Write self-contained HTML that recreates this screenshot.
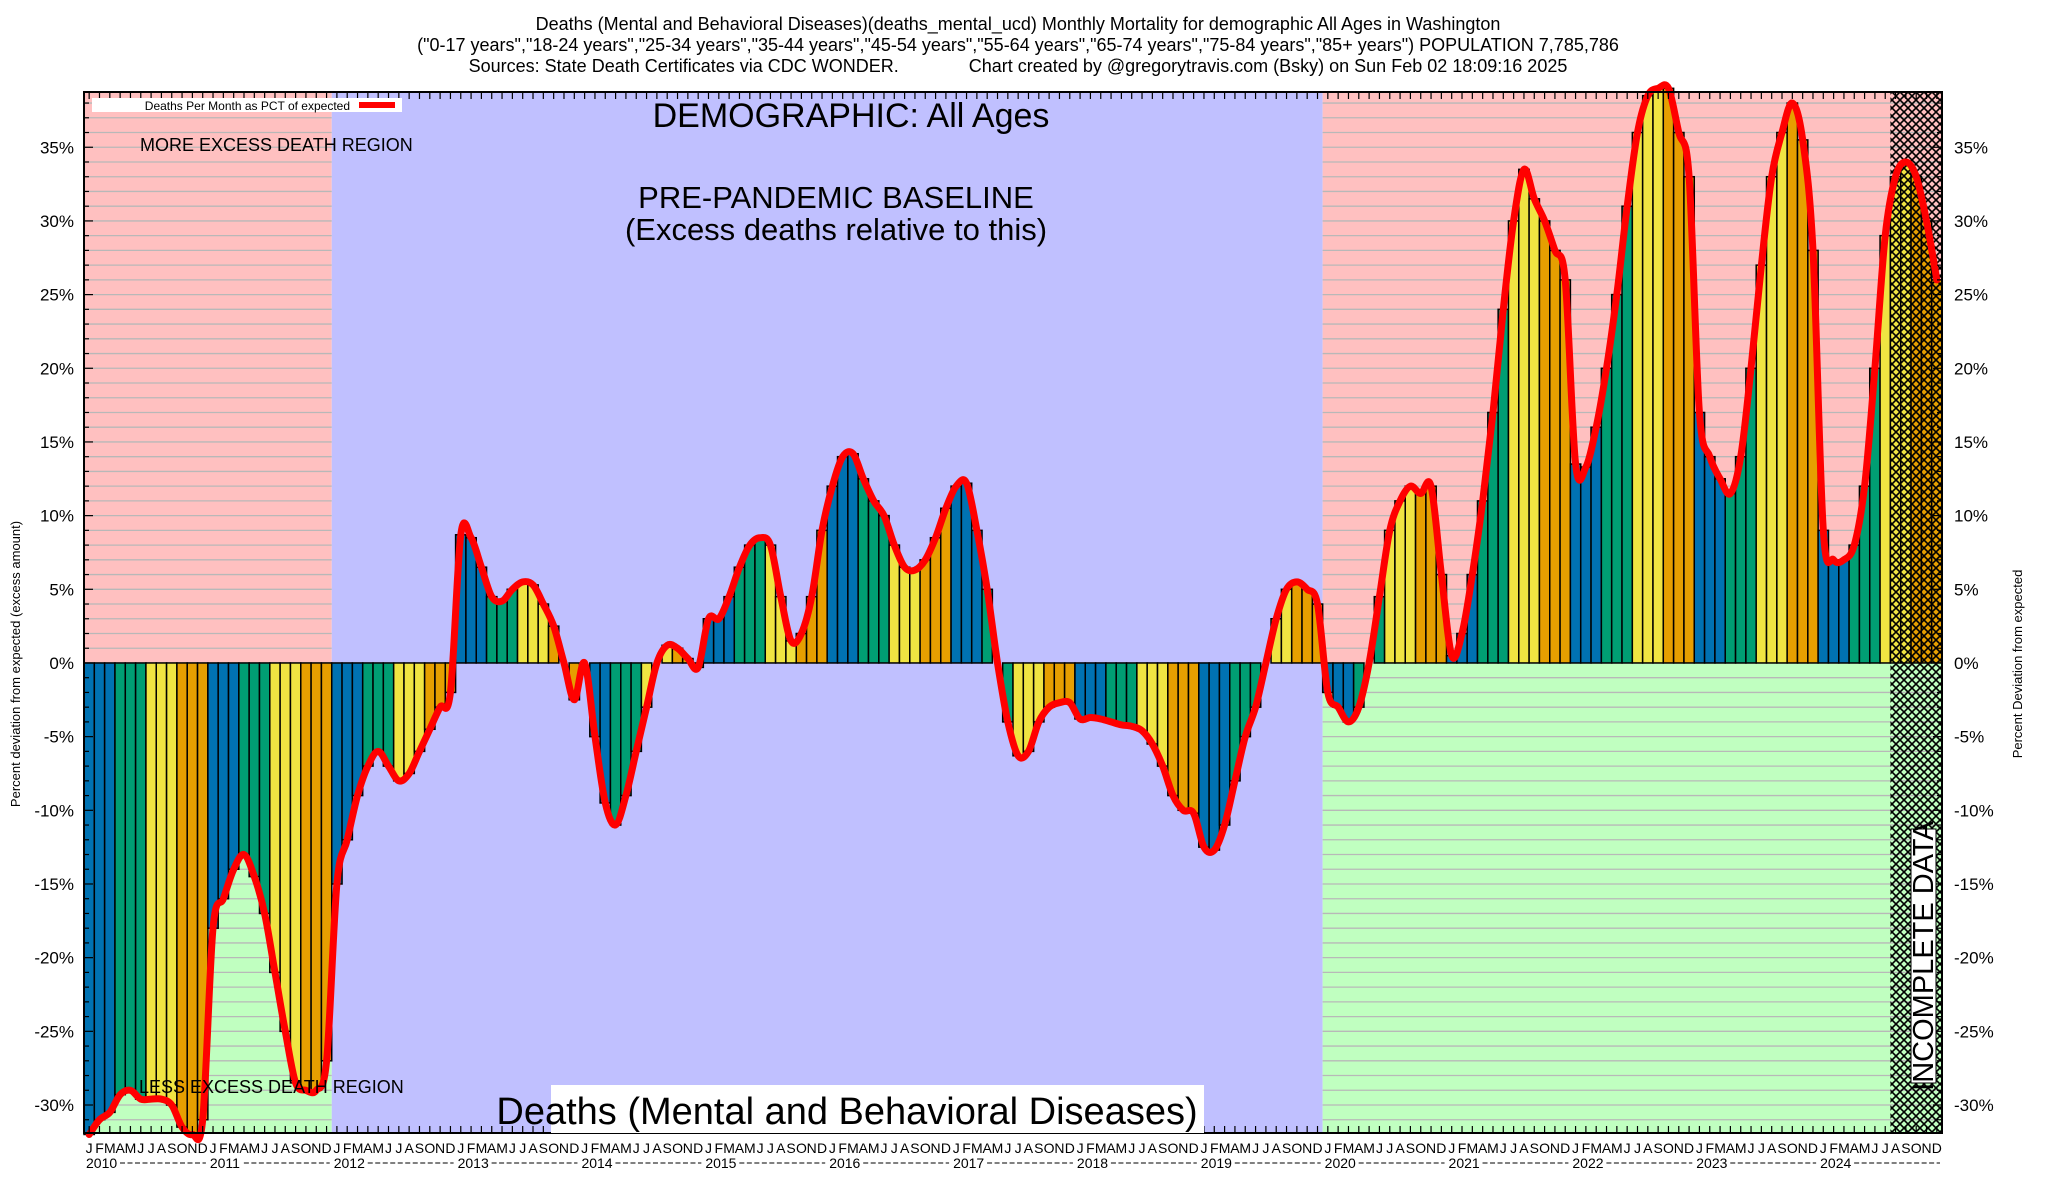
<!DOCTYPE html>
<html><head><meta charset="utf-8"><style>
html,body{margin:0;padding:0;background:#fff}
svg{display:block;font-family:"Liberation Sans",sans-serif}
</style></head><body>
<svg id="chart" width="2048" height="1200" viewBox="0 0 2048 1200" xmlns="http://www.w3.org/2000/svg">
<defs>
<pattern id="hatch" width="8" height="8" patternUnits="userSpaceOnUse">
<path d="M0,0 L8,8 M8,0 L0,8" stroke="#000" stroke-width="1.6"/>
</pattern>
</defs>
<g id="bg"></g>
<g id="grid"></g>
<g id="bars"></g>
<g id="hatchg"></g>
<path id="line" fill="none" stroke="#ff0000" stroke-width="7" stroke-linejoin="round" stroke-linecap="round"/>
<g id="axes"></g>
<g id="texts">
<text x="1018" y="30" font-size="18" text-anchor="middle">Deaths (Mental and Behavioral Diseases)(deaths_mental_ucd) Monthly Mortality for demographic All Ages in Washington</text>
<text x="1018" y="51" font-size="18" text-anchor="middle">("0-17 years","18-24 years","25-34 years","35-44 years","45-54 years","55-64 years","65-74 years","75-84 years","85+ years") POPULATION 7,785,786</text>
<text x="1018" y="72" font-size="18" text-anchor="middle" xml:space="preserve">Sources: State Death Certificates via CDC WONDER.              Chart created by @gregorytravis.com (Bsky) on Sun Feb 02 18:09:16 2025</text>
<rect x="92" y="98" width="310" height="14" fill="#fff"/>
<text x="350" y="110" font-size="12" text-anchor="end">Deaths Per Month as PCT of expected</text>
<line x1="359" y1="105" x2="395" y2="105" stroke="#f00" stroke-width="6"/>
<text x="851" y="127" font-size="34" text-anchor="middle">DEMOGRAPHIC: All Ages</text>
<text x="836" y="208" font-size="31" text-anchor="middle">PRE-PANDEMIC BASELINE</text>
<text x="836" y="240" font-size="31" text-anchor="middle">(Excess deaths relative to this)</text>
<text x="140" y="151" font-size="18">MORE EXCESS DEATH REGION</text>
<text x="139" y="1093" font-size="18">LESS EXCESS DEATH REGION</text>
<rect x="551" y="1085" width="653" height="48" fill="#fff"/>
<text x="847" y="1124" font-size="38" text-anchor="middle">Deaths (Mental and Behavioral Diseases)</text>
<rect x="1911" y="829" width="25" height="254" fill="#fff" stroke="#000" stroke-width="1"/>
<text transform="translate(1933,956) rotate(-90)" font-size="29" text-anchor="middle">INCOMPLETE DATA</text>
<text transform="translate(20,664) rotate(-90)" font-size="13" text-anchor="middle">Percent deviation from expected (excess amount)</text>
<text transform="translate(2022,664) rotate(-90)" font-size="13" text-anchor="middle">Percent Deviation from expected</text>
</g>
</svg>
<script>
const years = [2010,2011,2012,2013,2014,2015,2016,2017,2018,2019,2020,2021,2022,2023,2024];
const monthLetters = ["J","F","M","A","M","J","J","A","S","O","N","D"];
const yTicks = [-30,-25,-20,-15,-10,-5,0,5,10,15,20,25,30,35];
const v2010 = [-32,-31,-30.5,-29.3,-29,-29.6,-29.6,-29.6,-30,-31.5,-32,-31];
const v2011 = [-18,-16,-14,-13,-14.5,-17,-21,-25,-28.5,-29,-29,-27];
const v2012 = [-15,-12,-9,-7,-6,-7,-8,-7.5,-6,-4.5,-3,-2];
const v2013 = [8.7,8.5,6.5,4.5,4.2,5,5.5,5.3,4,2.5,0,-2.5];
const v2014 = [0,-5,-9.5,-11,-9,-6,-3,0,1.2,1,0.3,-0.3];
const v2015 = [3,3,4.5,6.5,8,8.5,8,4.5,1.5,2,4.5,9];
const v2016 = [12,14,14.2,12.5,11,10,8,6.5,6.3,7,8.5,10.5];
const v2017 = [12,12.2,9,5,0,-4,-6.3,-6,-4,-3,-2.7,-2.7];
const v2018 = [-3.8,-3.7,-3.8,-4,-4.2,-4.3,-4.6,-5.5,-7,-9,-10,-10.2];
const v2019 = [-12.5,-12.7,-11,-8,-5,-3,0,3,5,5.5,5,4];
const v2020 = [-2,-3,-4,-3,0,4.5,9,11,12,11.5,12,6];
const v2021 = [0.5,2,6,11,17,24,30,33.5,31.5,30,28,26];
const v2022 = [13.5,13.3,16,20,25,31,36,38.5,39,39,36,33];
const v2023 = [17,14,12.5,11.5,14,20,27,33,36,38,35.5,28];
const v2024 = [9,7,7,8,12,20,29,33,34,33,30,26];
const values = [].concat(v2010,v2011,v2012,v2013,v2014,v2015,v2016,v2017,v2018,v2019,v2020,v2021,v2022,v2023,v2024);
const incompleteFrom = 175;

const NS="http://www.w3.org/2000/svg";
const L=84,R=1942,T=92,B=1133;
const Y0=-31.9,Y1=38.75;
const N=years.length*12;
const bw=(R-L)/N;
const xs=i=>L+i*bw;
const ys=v=>B-(v-Y0)/(Y1-Y0)*(B-T);
function mk(tag,attrs,parent){const e=document.createElementNS(NS,tag);for(const k in attrs)e.setAttribute(k,attrs[k]);parent.appendChild(e);return e;}
const bg=document.getElementById('bg'),grid=document.getElementById('grid'),bars=document.getElementById('bars'),axes=document.getElementById('axes'),hg=document.getElementById('hatchg');
const z=ys(0);
let r;
r=mk('rect',{x:xs(0),y:T,width:xs(24)-xs(0),height:z-T,fill:'#ffc0c0'},bg);


r=mk('rect',{x:xs(0),y:z,width:xs(24)-xs(0),height:B-z,fill:'#c0ffc0'},bg);


r=mk('rect',{x:xs(24),y:T,width:xs(120)-xs(24),height:B-T,fill:'#c0c0ff'},bg);


r=mk('rect',{x:xs(120),y:T,width:xs(N)-xs(120),height:z-T,fill:'#ffc0c0'},bg);


r=mk('rect',{x:xs(120),y:z,width:xs(N)-xs(120),height:B-z,fill:'#c0ffc0'},bg);


for(let p=Math.ceil(Y0);p<=Math.floor(Y1);p++){
  const y=ys(p);
  mk('line',{x1:xs(0),x2:xs(24),y1:y,y2:y,stroke:'#b8b8b8','stroke-width':1.3},grid);
  mk('line',{x1:xs(120),x2:xs(N),y1:y,y2:y,stroke:'#b8b8b8','stroke-width':1.3},grid);
}
const cols=['#0072b2','#0072b2','#0072b2','#009e73','#009e73','#009e73','#f0e442','#f0e442','#f0e442','#e69f00','#e69f00','#e69f00'];
values.forEach((v,i)=>{
  const y=Math.min(ys(v),z),h=Math.abs(ys(v)-z);
  const b=mk('rect',{x:xs(i),y:y,width:bw,height:h,fill:cols[i%12],stroke:'#000','stroke-width':1.5},bars);
  
  
});
r=mk('rect',{x:xs(incompleteFrom),y:T,width:xs(N)-xs(incompleteFrom),height:B-T,fill:'url(#hatch)'},hg);


const pts=values.map((v,i)=>[xs(i)+bw/2,ys(v)]);
let d='M'+pts[0][0]+','+pts[0][1];
for(let i=0;i<pts.length-1;i++){
  const p0=pts[Math.max(0,i-1)],p1=pts[i],p2=pts[i+1],p3=pts[Math.min(pts.length-1,i+2)];
  const c1=[p1[0]+(p2[0]-p0[0])/6,p1[1]+(p2[1]-p0[1])/6];
  const c2=[p2[0]-(p3[0]-p1[0])/6,p2[1]-(p3[1]-p1[1])/6];
  d+=' C'+c1[0].toFixed(1)+','+c1[1].toFixed(1)+' '+c2[0].toFixed(1)+','+c2[1].toFixed(1)+' '+p2[0].toFixed(1)+','+p2[1].toFixed(1);
}
document.getElementById('line').setAttribute('d',d);
r=mk('rect',{x:L,y:T,width:R-L,height:B-T,fill:'none',stroke:'#000','stroke-width':2},axes);


for(let p=Math.ceil(Y0);p<=Math.floor(Y1);p++){
  const y=ys(p),len=(p%5===0)?9:5;
  mk('line',{x1:L,x2:L+len,y1:y,y2:y,stroke:'#000','stroke-width':1.2},axes);
  mk('line',{x1:R-len,x2:R,y1:y,y2:y,stroke:'#000','stroke-width':1.2},axes);
}
yTicks.forEach(t=>{
  const y=ys(t);
  let e=mk('text',{x:L-10,y:y+6,'font-size':17,'text-anchor':'end'},axes);
  e.textContent=t+'%';
  
  
  e=mk('text',{x:R+12,y:y+6,'font-size':17},axes);
  e.textContent=t+'%';
  
  
});
for(let i=0;i<N;i++){
  const x=xs(i)+bw/2;
  mk('line',{x1:x,x2:x,y1:T,y2:T+7,stroke:'#000','stroke-width':1.2},axes);
  mk('line',{x1:x,x2:x,y1:B-7,y2:B,stroke:'#000','stroke-width':1.2},axes);
  const e=mk('text',{x:x,y:1153,'font-size':14,'text-anchor':'middle'},axes);
  e.textContent=monthLetters[i%12];
  
  
}
years.forEach((yr,k)=>{
  const x=xs(k*12);
  const e=mk('text',{x:x+2,y:1168,'font-size':14},axes);
  e.textContent=yr;
  
  
  mk('line',{x1:x+36,x2:xs(k*12+12)-2,y1:1163,y2:1163,stroke:'#000','stroke-width':1,'stroke-dasharray':'5,2.5'},axes);
});
</script>
</body></html>
